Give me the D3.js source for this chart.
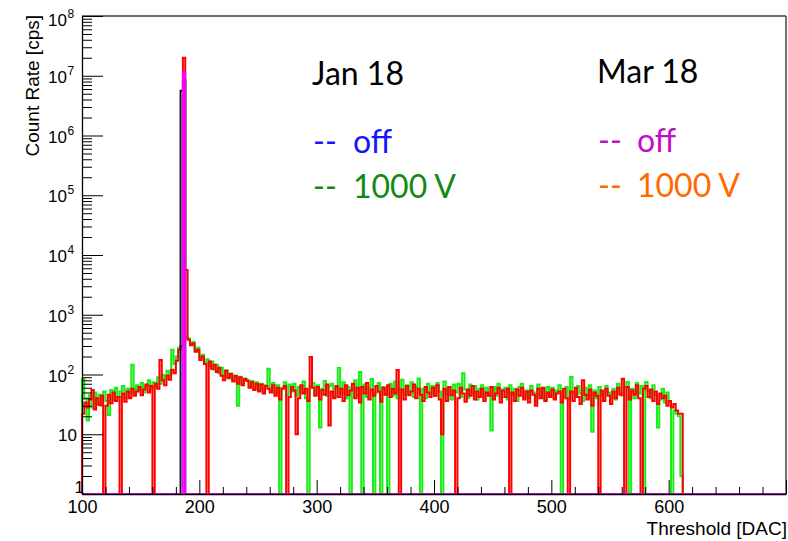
<!DOCTYPE html>
<html>
<head>
<meta charset="utf-8">
<script src="https://cdn.jsdelivr.net/npm/d3@7"></script>
<style>
  html, body { margin: 0; padding: 0; background: #fff; }
  svg { display: block; }
</style>
</head>
<body>
<svg id="chart" width="788" height="541"></svg>
<script>
// Threshold scan: count rate per DAC bin (bin width 2 DAC, first bin at 100)
const binStart = 100;
const binWidth = 2;

// Mar 18, 1000 V (drawn in red)
const mar1000V = [
  22, 34, 28, 38, 55, 26, 40, 31, 44, 0,
  30, 46, 33, 50, 36, 42, 0, 48, 35, 52,
  40, 58, 44, 52, 62, 45, 56, 68, 50, 64,
  0, 70, 58, 175, 80, 66, 95, 82, 120, 105,
  170, 260, 300, 2.0e7, 5600, 380, 310, 330, 240, 260,
  175, 200, 150, 0, 165, 125, 145, 110, 130, 95,
  80, 115, 88, 102, 76, 94, 70, 90, 66, 84,
  78, 60, 74, 55, 70, 52, 68, 48, 64, 58,
  50, 66, 44, 60, 38, 58, 64, 0, 42, 62,
  54, 10, 40, 66, 48, 58, 36, 196, 60, 44,
  62, 38, 55, 46, 68, 14, 52, 40, 64, 42,
  58, 36, 66, 45, 54, 70, 40, 60, 34, 62,
  48, 72, 38, 56, 44, 64, 52, 35, 60, 46,
  66, 42, 58, 48, 119, 0, 56, 38, 64, 45,
  52, 68, 40, 58, 46, 36, 62, 50, 42, 60,
  44, 66, 38, 10, 58, 36, 62, 45, 54, 0,
  40, 60, 48, 35, 56, 44, 64, 38, 52, 42,
  58, 36, 50, 44, 62, 38, 48, 60, 34, 54,
  42, 58, 0, 50, 36, 56, 44, 60, 38, 52,
  34, 54, 46, 30, 58, 40, 60, 36, 50, 42,
  56, 38, 48, 52, 34, 58, 40, 0, 52, 36,
  60, 42, 32, 80, 46, 38, 56, 30, 50, 44,
  0, 54, 36, 58, 44, 32, 52, 40, 60, 46,
  85, 0, 62, 38, 54, 46, 66, 40, 0, 58,
  64, 42, 56, 36, 52, 32, 48, 40, 44, 30,
  36, 28, 32, 25, 22, 22
];

// Jan 18, 1000 V (drawn in green)
const jan1000V = [
  85, 40, 17, 45, 28, 50, 33, 46, 30, 52,
  36, 21, 55, 38, 60, 42, 52, 64, 40, 58,
  50, 145, 48, 66, 54, 72, 50, 64, 80, 56,
  74, 62, 90, 70, 98, 84, 115, 96, 260, 150,
  200, 280, 300, 8.0e6, 420, 400, 330, 350, 250, 280,
  190, 215, 160, 180, 140, 165, 120, 145, 105, 130,
  95, 118, 86, 104, 80, 96, 30, 92, 70, 86,
  82, 62, 78, 58, 74, 56, 70, 50, 66, 125,
  54, 72, 48, 66, 0, 60, 74, 46, 68, 52,
  70, 44, 62, 50, 76, 40, 0, 64, 72, 46,
  66, 13, 58, 78, 44, 64, 70, 42, 60, 128,
  48, 74, 40, 62, 0, 56, 80, 44, 110, 0,
  68, 42, 60, 84, 0, 50, 72, 0, 62, 46,
  0, 70, 44, 76, 40, 58, 82, 46, 66, 50,
  74, 42, 62, 86, 0, 58, 40, 70, 48, 64,
  44, 72, 52, 0, 76, 46, 62, 38, 68, 50,
  70, 42, 105, 56, 40, 68, 48, 64, 38, 58,
  66, 40, 60, 48, 11.5, 62, 44, 70, 40, 56,
  60, 38, 66, 46, 58, 36, 62, 70, 42, 54,
  40, 64, 50, 34, 68, 44, 58, 38, 62, 46,
  60, 40, 54, 66, 0, 44, 62, 38, 91, 50,
  42, 64, 48, 36, 60, 44, 66, 11, 54, 40,
  62, 46, 36, 64, 50, 40, 58, 38, 70, 48,
  44, 62, 75, 0, 58, 40, 72, 48, 64, 0,
  75, 52, 40, 66, 46, 13, 38, 58, 34, 50,
  36, 0, 25, 22, 20, 2
];

// HV-off runs: only the pedestal bins are filled, every other bin is empty
const offBins = [184, 186];
const janOff = [5.6e6, 8.5e6];
const marOff = [0, 1.15e7];

// Axis ticks and labels
const xMajorTicks = [100, 200, 300, 400, 500, 600, 700];
const xTickLabels = ["100", "200", "300", "400", "500", "600"];
const yDecades = [0, 1, 2, 3, 4, 5, 6, 7, 8];

// Legend entries
const legendGroups = ["Jan 18", "Mar 18"];
const legendRows = [
  { group: 0, label: "off", color: "#1515ff" },
  { group: 0, label: "1000 V", color: "#108a10" },
  { group: 1, label: "off", color: "#c010c8" },
  { group: 1, label: "1000 V", color: "#ff6a00" }
];

const svg = d3.select("#chart");
const W = 788, H = 541;
const plot = { left: 82, right: 786, top: 16, bottom: 494 };

svg.append("rect").attr("width", W).attr("height", H).attr("fill", "#fff");

const x = d3.scaleLinear().domain([100, 700]).range([plot.left, plot.right]);
const y = d3.scaleLog().domain([1, 1e8]).range([plot.bottom, plot.top]);

const yPix = v => (v >= 1 ? y(v) : plot.bottom);

// Build a ROOT-style histogram outline: starts and ends on the frame bottom
function histPoints(values, start, width) {
  const pts = [[x(start), plot.bottom]];
  values.forEach((v, i) => {
    const yy = yPix(v);
    pts.push([x(start + i * width), yy], [x(start + (i + 1) * width), yy]);
  });
  pts.push([x(start + values.length * width), plot.bottom]);
  return pts;
}

// Full-range contents for the off runs (100..700)
function fullRange(bins, vals) {
  const n = (700 - binStart) / binWidth;
  const out = new Array(n).fill(0);
  bins.forEach((b, i) => { out[(b - binStart) / binWidth] = vals[i]; });
  return out;
}

const line = d3.line();
const series = [
  { values: jan1000V, color: "#16ee16", width: 2 },
  { values: mar1000V, color: "#ff0000", width: 2 },
  { values: fullRange(offBins, janOff), color: "#14143c", width: 2 },
  { values: fullRange(offBins, marOff), color: "#ff00ff", width: 2 }
];

const hg = svg.append("g");
series.forEach(s => {
  hg.append("path")
    .attr("d", line(histPoints(s.values, binStart, binWidth)))
    .attr("fill", "none")
    .attr("stroke", s.color)
    .attr("stroke-width", s.width)
    .attr("stroke-linejoin", "miter");
});

// Frame: top and right edges
svg.append("line")
  .attr("x1", plot.left).attr("x2", plot.right)
  .attr("y1", plot.top).attr("y2", plot.top)
  .attr("stroke", "#6e6e6e").attr("stroke-width", 2);
svg.append("line")
  .attr("x1", plot.right).attr("x2", plot.right)
  .attr("y1", plot.top).attr("y2", plot.bottom)
  .attr("stroke", "#444").attr("stroke-width", 1.5);

const axisFont = "'Liberation Sans', Arial, Helvetica, sans-serif";

// X axis: major ticks every 100, minor every 20, drawn inward
const xMinor = d3.range(100, 701, 20).filter(v => v % 100 !== 0);
const xAxisG = svg.append("g").attr("transform", `translate(0,${plot.bottom})`);
xAxisG.call(d3.axisBottom(x).tickValues(xMinor).tickSizeInner(-7).tickSizeOuter(0).tickFormat(""));
xAxisG.call(g => g.select(".domain").remove());
const xMajG = svg.append("g").attr("transform", `translate(0,${plot.bottom})`)
  .call(d3.axisBottom(x).tickValues(xMajorTicks).tickSizeInner(-14).tickSizeOuter(0)
    .tickPadding(6.5)
    .tickFormat(d => xTickLabels.includes(String(d)) ? String(d) : ""));
xMajG.select(".domain").attr("stroke", "#000").attr("stroke-width", 1.3);
xMajG.selectAll("text").attr("font-family", axisFont).attr("font-size", 18).attr("fill", "#000");
svg.selectAll(".tick line").attr("stroke", "#000");

// Y axis: log decades with 2..9 minor ticks, drawn inward
const yMinor = [];
for (let e = 0; e < 8; e++) for (let m = 2; m <= 9; m++) yMinor.push(m * Math.pow(10, e));
const yAxisMin = svg.append("g").attr("transform", `translate(${plot.left},0)`)
  .call(d3.axisLeft(y).tickValues(yMinor).tickSizeInner(-10).tickSizeOuter(0).tickFormat(""));
yAxisMin.select(".domain").remove();
const yAxisMaj = svg.append("g").attr("transform", `translate(${plot.left},0)`)
  .call(d3.axisLeft(y).tickValues(yDecades.map(e => Math.pow(10, e))).tickSizeInner(-21).tickSizeOuter(0).tickFormat(""));
yAxisMaj.select(".domain").attr("stroke", "#000").attr("stroke-width", 1.3);
svg.selectAll(".tick line").attr("stroke", "#000");

// Y tick labels with superscript exponents
const yl = svg.append("g").attr("font-family", axisFont).attr("fill", "#000");
yDecades.forEach(e => {
  const ty = y(Math.pow(10, e));
  if (e === 0) {
    yl.append("text").attr("x", 84).attr("y", ty - 1).attr("text-anchor", "end")
      .attr("font-size", 17).text("1");
  } else if (e === 1) {
    yl.append("text").attr("x", 77).attr("y", ty + 7).attr("text-anchor", "end")
      .attr("font-size", 17).text("10");
  } else {
    const base = e === 8 ? ty + 10 : ty + 7;
    yl.append("text").attr("x", 67).attr("y", base).attr("text-anchor", "end")
      .attr("font-size", 17).text("10");
    yl.append("text").attr("x", 67.5).attr("y", base - 8).attr("text-anchor", "start")
      .attr("font-size", 12).text(String(e));
  }
});

// Axis titles
svg.append("text")
  .attr("transform", `translate(38.5,15) rotate(-90)`)
  .attr("text-anchor", "end")
  .attr("font-family", axisFont).attr("font-size", 19).attr("fill", "#000")
  .text("Count Rate [cps]");
svg.append("text")
  .attr("x", 787).attr("y", 535).attr("text-anchor", "end")
  .attr("font-family", axisFont).attr("font-size", 19).attr("fill", "#000")
  .text("Threshold [DAC]");

// Legend text block
const legFont = "Lato, 'Open Sans', sans-serif";
const groupX = [312, 597];
const groupLabelY = [85, 83];
const rowY = [[153, 198], [152, 197]];
const valueX = [353, 637];
legendGroups.forEach((g, gi) => {
  svg.append("text").attr("x", groupX[gi]).attr("y", groupLabelY[gi])
    .attr("font-family", legFont).attr("font-size", 32).attr("fill", "#000").text(g);
});
const rowCount = [0, 0];
legendRows.forEach(r => {
  const k = rowCount[r.group]++;
  const ty = rowY[r.group][k];
  svg.append("text").attr("x", groupX[r.group] + 1).attr("y", ty)
    .attr("font-family", legFont).attr("font-size", 32).attr("fill", r.color).text("--");
  svg.append("text").attr("x", valueX[r.group]).attr("y", ty)
    .attr("font-family", legFont).attr("font-size", 32).attr("fill", r.color).text(r.label);
});
</script>
</body>
</html>
